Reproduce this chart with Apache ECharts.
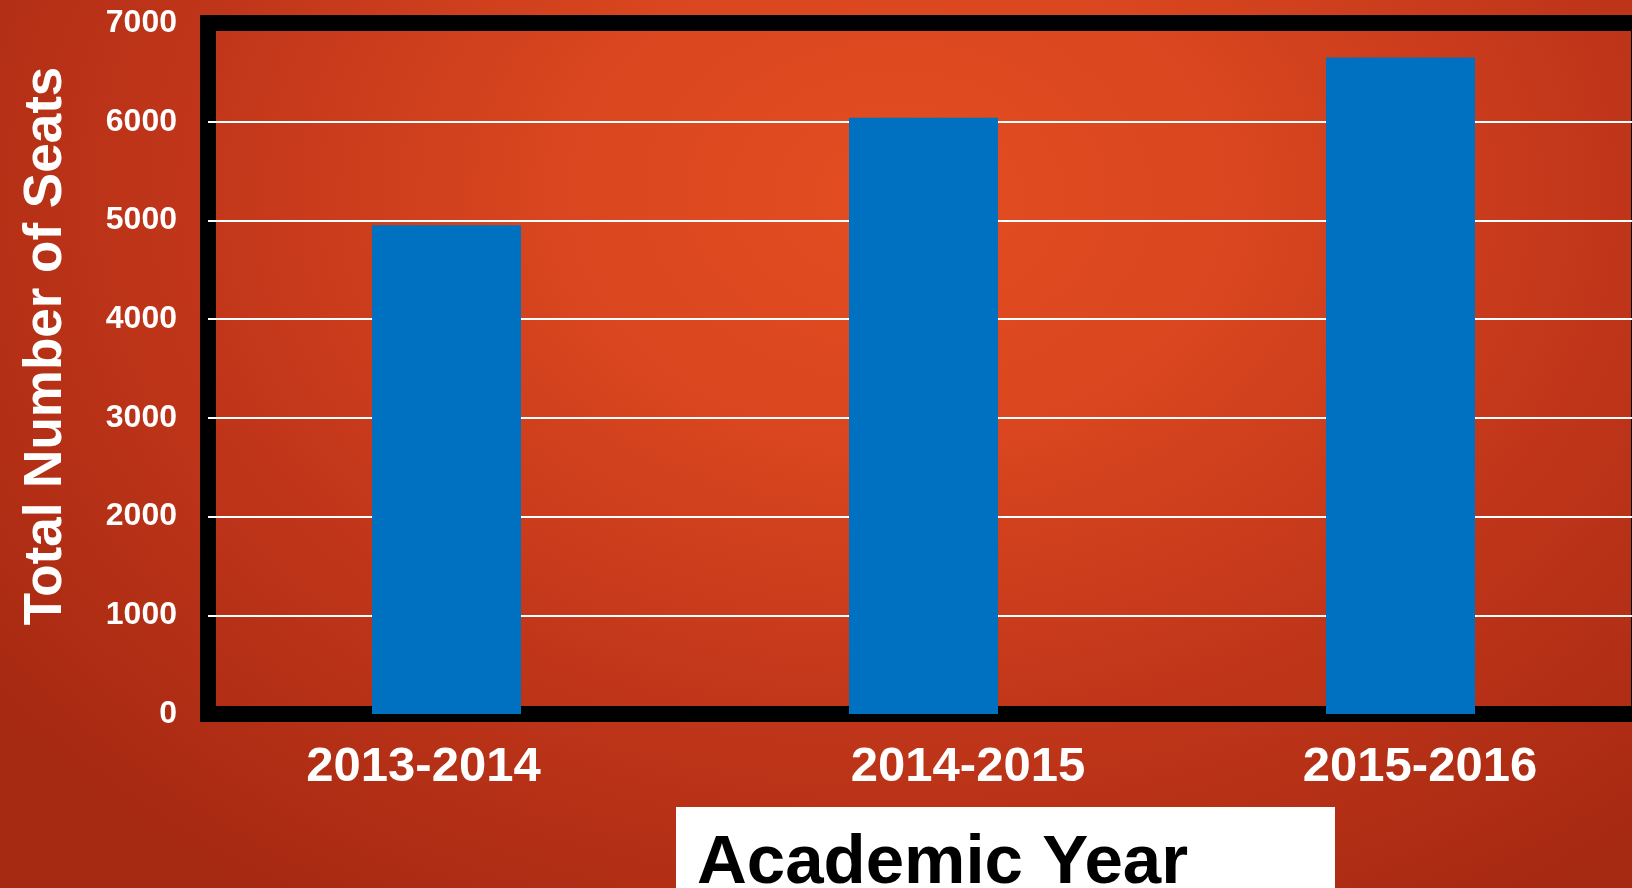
<!DOCTYPE html>
<html>
<head>
<meta charset="utf-8">
<script src="https://cdn.jsdelivr.net/npm/echarts@6/dist/echarts.min.js"></script>
<style>
  html, body { margin: 0; padding: 0; width: 1632px; height: 888px; overflow: hidden; }
  body {
    background: radial-gradient(ellipse 70% 95% at 55% 22%, #E44D21 0%, #D9461F 30%, #C1361A 62%, #A62911 100%);
  }
  #chart { width: 1632px; height: 888px; }
</style>
</head>
<body>
<div id="chart"></div>
<script>
const categories = ['2013-2014', '2014-2015', '2015-2016'];
const seats = [4950, 6040, 6650];
const yTicks = [0, 1000, 2000, 3000, 4000, 5000, 6000, 7000];
const yTitle = 'Total Number of Seats';
const xTitle = 'Academic Year';

const FONT = '"Liberation Sans", Arial, sans-serif';
const chart = echarts.init(document.getElementById('chart'));
chart.setOption({
  backgroundColor: 'transparent',
  animation: false,
  title: {
    text: xTitle,
    left: 676,
    top: 807,
    backgroundColor: '#ffffff',
    padding: [22, 147, 30, 21],
    textStyle: { fontFamily: FONT, fontSize: 69, fontWeight: 'bold', color: '#000000' }
  },
  grid: {
    left: 208, top: 23, height: 691, width: 1431,
    outerBoundsMode: 'none',
    containLabel: false,
    show: true,
    backgroundColor: 'transparent',
    borderColor: '#000000',
    borderWidth: 16
  },
  xAxis: {
    type: 'category',
    data: categories,
    axisLine: { show: false },
    axisTick: { show: false },
    axisLabel: {
      margin: 29,
      color: '#ffffff',
      fontFamily: FONT,
      fontSize: 49,
      fontWeight: 'bold',
      formatter: (v, i) => '{s' + i + '|' + v + '}',
      rich: {
        s0: { padding: [0, 46, 0, 0], fontFamily: FONT, fontSize: 49, fontWeight: 'bold', color: '#ffffff' },
        s1: { padding: [0, 0, 0, 89], fontFamily: FONT, fontSize: 49, fontWeight: 'bold', color: '#ffffff' },
        s2: { padding: [0, 0, 0, 39], fontFamily: FONT, fontSize: 49, fontWeight: 'bold', color: '#ffffff' }
      }
    }
  },
  yAxis: {
    type: 'value',
    min: yTicks[0],
    max: yTicks[yTicks.length - 1],
    interval: yTicks[1] - yTicks[0],
    name: yTitle,
    nameLocation: 'middle',
    nameGap: 135,
    nameTextStyle: {
      fontFamily: FONT, fontSize: 53, fontWeight: 'bold', color: '#ffffff',
      padding: [0, 0, 0, 45]
    },
    axisLine: { show: false },
    axisTick: { show: false },
    axisLabel: {
      margin: 31,
      color: '#ffffff',
      fontFamily: FONT,
      fontSize: 32,
      fontWeight: 'bold',
      formatter: (v) => String(v)
    },
    splitLine: {
      show: true,
      showMinLine: false,
      showMaxLine: false,
      lineStyle: { color: '#ffffff', width: 2 }
    }
  },
  series: [{
    type: 'bar',
    data: seats,
    barWidth: 149,
    itemStyle: { color: '#0070C0' }
  }]
});
</script>
</body>
</html>
